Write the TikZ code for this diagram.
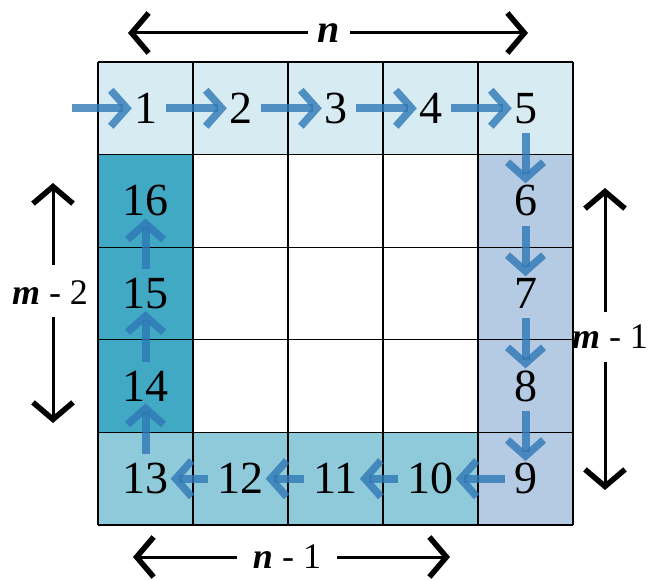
\documentclass[tikz,border=0pt]{standalone}
\usepackage{fontspec}
\setmainfont{Liberation Serif}
\usetikzlibrary{arrows.meta}
\definecolor{toprow}{HTML}{D7ECF2}
\definecolor{rightcol}{HTML}{B5CAE3}
\definecolor{leftcol}{HTML}{42A9C5}
\definecolor{botrow}{HTML}{8FCADA}
\definecolor{flow}{HTML}{2F78B5}
\begin{document}
\begin{tikzpicture}[x=1pt,y=-1pt,
  num/.style={font=\fontsize{46}{46}\selectfont, inner sep=1pt},
  lab/.style={font=\fontsize{36}{36}\selectfont, inner sep=2pt},
  flowarrow/.style={draw=flow, draw opacity=0.8, line width=8pt,
    -{Straight Barb[length=16pt,width=36pt,line width=7.5pt]},
    shorten <=8pt, shorten >=1pt},
  dimarrow/.style={line width=3pt, -{Straight Barb[length=17pt,width=40pt,line width=5.5pt]}},
  gridline/.style={line width=1.2pt, draw=black}]
\useasboundingbox (0,0) rectangle (652,580);
% cell fills
\foreach \i in {0,...,4} \fill[toprow] (98+95*\i,62) rectangle (193+95*\i,154.6);
\foreach \j in {1,...,4} \fill[rightcol] (478,62+92.6*\j) rectangle (573,154.6+92.6*\j);
\foreach \j in {1,...,3} \fill[leftcol] (98,62+92.6*\j) rectangle (193,154.6+92.6*\j);
\foreach \i in {0,...,3} \fill[botrow] (98+95*\i,432.4) rectangle (193+95*\i,525);
% grid
\foreach \i in {0,...,5} \draw[gridline] (98+95*\i,62) -- (98+95*\i,525);
\foreach \j in {0,...,5} \draw[gridline] (98,62+92.6*\j) -- (573,62+92.6*\j);
% numbers
\node[num] (n1) at (145.5,108.3) {1};
\node[num] (n2) at (240.5,108.3) {2};
\node[num] (n3) at (335.5,108.3) {3};
\node[num] (n4) at (430.5,108.3) {4};
\node[num] (n5) at (525.5,108.3) {5};
\node[num] (n6) at (525.5,200.9) {6};
\node[num] (n7) at (525.5,293.5) {7};
\node[num] (n8) at (525.5,386.1) {8};
\node[num] (n9) at (525.5,478.7) {9};
\node[num] (n10) at (430.5,478.7) {10};
\node[num] (n11) at (335.5,478.7) {11};
\node[num] (n12) at (240.5,478.7) {12};
\node[num] (n13) at (145.5,478.7) {13};
\node[num] (n14) at (145.5,386.1) {14};
\node[num] (n15) at (145.5,293.5) {15};
\node[num] (n16) at (145.5,200.9) {16};
% flow arrows
\coordinate (start) at (72,108.3);
\draw[flowarrow, shorten <=0pt] (start) -- (n1.west);
\draw[flowarrow] (n1.east) -- (n2.west);
\draw[flowarrow] (n2.east) -- (n3.west);
\draw[flowarrow] (n3.east) -- (n4.west);
\draw[flowarrow] (n4.east) -- (n5.west);
\draw[flowarrow] (n5.south) -- (n6.north);
\draw[flowarrow] (n6.south) -- (n7.north);
\draw[flowarrow] (n7.south) -- (n8.north);
\draw[flowarrow] (n8.south) -- (n9.north);
\draw[flowarrow] (n9.west) -- (n10.east);
\draw[flowarrow] (n10.west) -- (n11.east);
\draw[flowarrow] (n11.west) -- (n12.east);
\draw[flowarrow] (n12.west) -- (n13.east);
\draw[flowarrow] (n13.north) -- (n14.south);
\draw[flowarrow] (n14.north) -- (n15.south);
\draw[flowarrow] (n15.north) -- (n16.south);
% dimension labels
\node[lab, font=\fontsize{40}{40}\selectfont] (ltop) at (329,33) {\textbf{\textit{n}}};
\coordinate (ttl) at (128,33);
\coordinate (ttr) at (528,33);
\draw[dimarrow] (ltop.west) ++(-8,0) -- (ttl);
\draw[dimarrow] (ltop.east) ++(8,0) -- (ttr);
\node[lab] (lleft) at (50,293) {\textbf{\textit{m}} - 2};
\coordinate (lt) at (53,183);
\coordinate (lb) at (53,423);
\draw[dimarrow] (53,265) -- (lt);
\draw[dimarrow] (53,317) -- (lb);
\node[lab] (lright) at (610,337) {\textbf{\textit{m}} - 1};
\coordinate (rt) at (605,188);
\coordinate (rb) at (605,490);
\draw[dimarrow] (605,312) -- (rt);
\draw[dimarrow] (605,362) -- (rb);
\node[lab] (lbot) at (287,557) {\textbf{\textit{n}} - 1};
\coordinate (bl) at (133,557);
\coordinate (br) at (450,557);
\draw[dimarrow] (lbot.west) ++(-14,0) -- (bl);
\draw[dimarrow] (lbot.east) ++(14,0) -- (br);
\end{tikzpicture}
\end{document}
